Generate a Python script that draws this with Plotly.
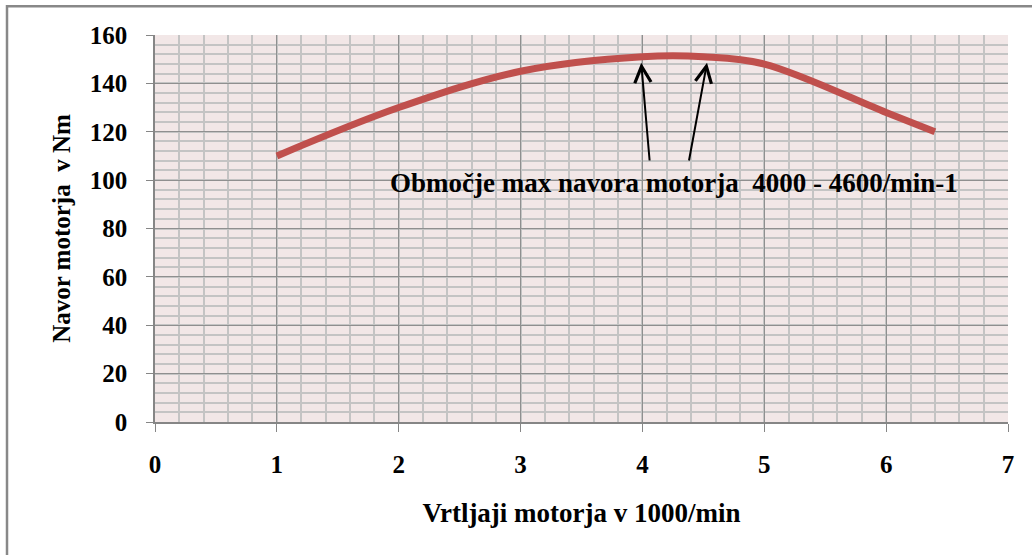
import plotly.graph_objects as go

# Engine speed (thousands of rpm) and torque (Nm)
rpm_k = [1.0, 2.0, 3.0, 4.0, 4.5, 5.0, 6.0, 6.4]
torque_nm = [110, 130, 145, 151, 151, 148, 128, 120]

x_ticks = [0, 1, 2, 3, 4, 5, 6, 7]
y_ticks = [0, 20, 40, 60, 80, 100, 120, 140, 160]

# Arrows pointing at the edges of the peak-torque band
arrow_tails = [(4.06, 107.5), (4.38, 107.5)]
arrow_heads = [(3.99, 148.5), (4.53, 148.5)]

note_text = "Območje max navora motorja  4000 - 4600/min-1"

FONT = "Liberation Serif"
GRID_MAJOR = "#8f8f8f"
GRID_MINOR = "#c4c4c4"
BOLD = dict(family=FONT, size=25, color="#000000", weight="bold")

fig = go.Figure()
fig.add_trace(go.Scatter(
    x=rpm_k, y=torque_nm, mode="lines",
    line=dict(color="#C0504D", width=7, shape="spline", smoothing=1.0),
    hoverinfo="x+y", showlegend=False,
))

for (tx, ty), (hx, hy) in zip(arrow_tails, arrow_heads):
    fig.add_annotation(
        x=hx, y=hy, ax=tx, ay=ty, xref="x", yref="y", axref="x", ayref="y",
        showarrow=True, arrowhead=5, arrowsize=1.6, arrowwidth=2,
        arrowcolor="#000000", text="",
    )

fig.add_annotation(
    x=4.26, y=98.8, xref="x", yref="y", text=note_text,
    showarrow=False, font=dict(family=FONT, size=27, color="#000000", weight="bold"),
)

# Outer chart border
fig.add_shape(
    type="rect", xref="paper", yref="paper",
    x0=-0.1735, x1=1.04, y0=-0.37, y1=1.074,
    line=dict(color="#888888", width=2.5), fillcolor="rgba(0,0,0,0)", layer="below",
)

fig.update_xaxes(
    range=[0, 7], tickvals=x_ticks, ticks="outside", ticklen=8, tickcolor="#868686",
    showline=True, linecolor="#868686", linewidth=1.5, mirror=False,
    showgrid=True, gridcolor=GRID_MAJOR, gridwidth=1.2, zeroline=False,
    minor=dict(dtick=0.2, showgrid=True, gridcolor=GRID_MINOR, gridwidth=1.5),
    tickfont=BOLD,
    ticklabelstandoff=11,
    title=dict(text="Vrtljaji motorja v 1000/min",
               font=dict(family=FONT, size=27, color="#000000", weight="bold"), standoff=26),
)
fig.update_yaxes(
    range=[0, 160], tickvals=y_ticks, ticks="outside", ticklen=7, tickcolor="#868686",
    showline=True, linecolor="#868686", linewidth=1.5,
    showgrid=True, gridcolor=GRID_MAJOR, gridwidth=1.2, zeroline=False,
    minor=dict(dtick=4, showgrid=True, gridcolor=GRID_MINOR, gridwidth=1.5),
    tickfont=BOLD,
    ticklabelstandoff=14,
    title=dict(text="Navor motorja  v Nm",
               font=dict(family=FONT, size=25, color="#000000", weight="bold"), standoff=12),
)

fig.update_layout(
    width=1032, height=555,
    margin=dict(l=155, r=24, t=35, b=133),
    paper_bgcolor="#ffffff", plot_bgcolor="#F2E7E7",
    font=dict(family=FONT, color="#000000"),
)

fig.write_html("out.html")
